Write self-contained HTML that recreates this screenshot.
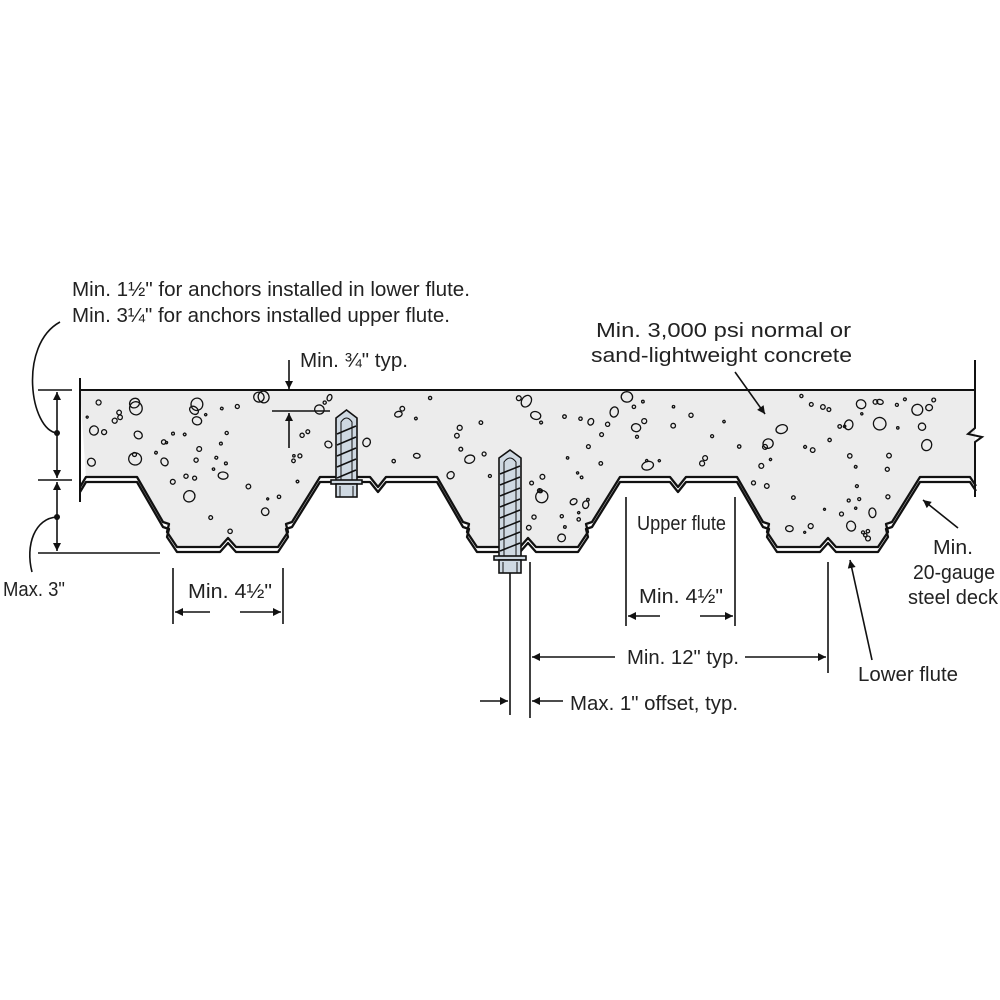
<!DOCTYPE html>
<html><head><meta charset="utf-8"><style>
html,body{margin:0;padding:0;background:#fff;}
svg{display:block;}
text{font-family:"Liberation Sans Narrow","Liberation Sans",sans-serif;font-size:20px;fill:#222;}
</style></head><body>
<svg id="s" width="1000" height="1000" viewBox="0 0 1000 1000" xmlns="http://www.w3.org/2000/svg">
<defs>
<marker id="ah" viewBox="0 0 10 10" refX="10" refY="5" markerWidth="17" markerHeight="8" markerUnits="userSpaceOnUse" orient="auto"><path d="M0,0 L10,5 L0,10 z" fill="#111"/></marker>
</defs>
<g id="concrete"></g>
<g id="dots" fill="none" stroke="#111" stroke-width="1.3"></g>
<g id="deck"></g>
<g id="anchors"></g>
<g stroke="#111" stroke-width="1.6" fill="none">
<line x1="80" y1="390" x2="975" y2="390" stroke-width="2"/>
<line x1="80" y1="378" x2="80" y2="502" stroke-width="2"/>
<polyline points="975,360 975,428 968,434 982,437 975,442 975,497" stroke-width="2"/>
<line x1="38" y1="390" x2="72" y2="390"/>
<line x1="38" y1="480" x2="72" y2="480"/>
<line x1="38" y1="553" x2="160" y2="553"/>
<line x1="57" y1="433" x2="57" y2="392" marker-end="url(#ah)"/>
<line x1="57" y1="433" x2="57" y2="478" marker-end="url(#ah)"/>
<line x1="57" y1="517" x2="57" y2="482" marker-end="url(#ah)"/>
<line x1="57" y1="517" x2="57" y2="551" marker-end="url(#ah)"/>
<path d="M57,433 C30,430 18,345 60,322"/>
<path d="M57,517 C35,518 25,545 32,572"/>
<line x1="289" y1="360" x2="289" y2="389" marker-end="url(#ah)"/>
<line x1="272" y1="411" x2="330" y2="411"/>
<line x1="289" y1="448" x2="289" y2="413" marker-end="url(#ah)"/>
<line x1="173" y1="568" x2="173" y2="624"/>
<line x1="283" y1="568" x2="283" y2="624"/>
<line x1="210" y1="612" x2="175" y2="612" marker-end="url(#ah)"/>
<line x1="240" y1="612" x2="281" y2="612" marker-end="url(#ah)"/>
<line x1="626" y1="497" x2="626" y2="626"/>
<line x1="735" y1="497" x2="735" y2="626"/>
<line x1="660" y1="616" x2="628" y2="616" marker-end="url(#ah)"/>
<line x1="700" y1="616" x2="733" y2="616" marker-end="url(#ah)"/>
<line x1="510" y1="573" x2="510" y2="715"/>
<line x1="530" y1="562" x2="530" y2="718"/>
<line x1="828" y1="562" x2="828" y2="673"/>
<line x1="615" y1="657" x2="532" y2="657" marker-end="url(#ah)"/>
<line x1="745" y1="657" x2="826" y2="657" marker-end="url(#ah)"/>
<line x1="480" y1="701" x2="508" y2="701" marker-end="url(#ah)"/>
<line x1="563" y1="701" x2="532" y2="701" marker-end="url(#ah)"/>
<line x1="735" y1="372" x2="765" y2="414" marker-end="url(#ah)"/>
<line x1="958" y1="528" x2="923" y2="500" marker-end="url(#ah)"/>
<line x1="872" y1="660" x2="850" y2="560" marker-end="url(#ah)"/>
</g>
<circle cx="57" cy="433" r="3" fill="#111"/>
<circle cx="57" cy="517" r="3" fill="#111"/>
<text x="72" y="296" textLength="398" lengthAdjust="spacingAndGlyphs">Min. 1½" for anchors installed in lower flute.</text>
<text x="72" y="322" textLength="378" lengthAdjust="spacingAndGlyphs">Min. 3¼" for anchors installed upper flute.</text>
<text x="300" y="367" textLength="108" lengthAdjust="spacingAndGlyphs">Min. ¾" typ.</text>
<text x="596" y="337" textLength="255" lengthAdjust="spacingAndGlyphs">Min. 3,000 psi normal or</text>
<text x="591" y="362" textLength="261" lengthAdjust="spacingAndGlyphs">sand-lightweight concrete</text>
<text x="3" y="596" textLength="62" lengthAdjust="spacingAndGlyphs">Max. 3"</text>
<text x="188" y="598" textLength="84" lengthAdjust="spacingAndGlyphs">Min. 4½"</text>
<text x="637" y="530" textLength="89" lengthAdjust="spacingAndGlyphs">Upper flute</text>
<text x="639" y="603" textLength="84" lengthAdjust="spacingAndGlyphs">Min. 4½"</text>
<text x="627" y="664" textLength="112" lengthAdjust="spacingAndGlyphs">Min. 12" typ.</text>
<text x="570" y="710" textLength="168" lengthAdjust="spacingAndGlyphs">Max. 1" offset, typ.</text>
<text x="858" y="681" textLength="100" lengthAdjust="spacingAndGlyphs">Lower flute</text>
<text x="933" y="554" textLength="40" lengthAdjust="spacingAndGlyphs">Min.</text>
<text x="913" y="579" textLength="82" lengthAdjust="spacingAndGlyphs">20-gauge</text>
<text x="908" y="604" textLength="90" lengthAdjust="spacingAndGlyphs">steel deck</text>
</svg>
<script>
(function(){
var NS="http://www.w3.org/2000/svg";
function el(t,a,p){var e=document.createElementNS(NS,t);for(var k in a)e.setAttribute(k,a[k]);p.appendChild(e);return e;}
var pts=[[80,487],[86,477]];
[20,320,620].forEach(function(p){
 var r=[[p+117,477],[p+143,522],[p+149,524],[p+147,532],[p+157,547],[p+200,547],[p+208,538],[p+216,547],[p+258,547],[p+268,532],[p+266,524],[p+272,522],[p+300,477],[p+350,477],[p+358,487],[p+366,477]];
 r.forEach(function(q){if(q[0]>=86&&q[0]<=975)pts.push(q);});
});
pts.push([970,477]);pts.push([976,486]);
var d="M"+pts.map(function(q){return q[0]+","+q[1];}).join(" L");
var conc=document.getElementById("concrete");
el("path",{d:"M80,390 L975,390 L975,486 L976,486 "+d.replace("M","L").split(" L").reverse().join(" L")+" Z",fill:"#ececec",stroke:"none"},conc);
var deck=document.getElementById("deck");
var lower=pts.map(function(q){return [q[0],q[1]+5];});
var d2="M"+lower.map(function(q){return q[0]+","+q[1];}).join(" L");
el("path",{d:d,fill:"none",stroke:"#111","stroke-width":"2.3","stroke-linejoin":"round"},deck);
el("path",{d:d2,fill:"none",stroke:"#111","stroke-width":"2.3","stroke-linejoin":"round"},deck);
el("path",{d:"M80,487 L80,492",stroke:"#111","stroke-width":"2"},deck);
function yAt(x){for(var i=0;i<pts.length-1;i++){var a=pts[i],b=pts[i+1];if(x>=a[0]&&x<=b[0]){return a[1]+(b[1]-a[1])*(x-a[0])/((b[0]-a[0])||1);}}return 477;}
var seed=7;function rnd(){seed=(seed*16807)%2147483647;return seed/2147483647;}
var dots=document.getElementById("dots");
for(var i=0;i<300;i++){
 var x=86+rnd()*884,y=396+rnd()*160;
 var lim=Math.min(yAt(x-8),yAt(x+8),yAt(x));
 if(y>lim-8)continue;
 if(x>330&&x<364&&y<500)continue;
 if(x>494&&x<526&&y>445)continue;
 var big=rnd()<0.3;
 var rx=big?3+rnd()*3.5:1+rnd()*1.5, ry=big?rx*(0.7+rnd()*0.4):rx;
 el("ellipse",{cx:x.toFixed(1),cy:y.toFixed(1),rx:rx.toFixed(1),ry:ry.toFixed(1),transform:"rotate("+(rnd()*180|0)+" "+x.toFixed(1)+" "+y.toFixed(1)+")"},dots);
}
var an=document.getElementById("anchors");
function anchor(x1,x2,top,wash,nutb){
 var g=el("g",{stroke:"#111","stroke-width":"1.6"},an);
 var m=(x1+x2)/2;
 el("path",{d:"M"+x1+","+wash+" L"+x1+","+(top+8)+" L"+m+","+top+" L"+x2+","+(top+8)+" L"+x2+","+wash+" Z",fill:"#cfd9e2"},g);
 el("path",{d:"M"+(x1+5)+","+(wash)+" L"+(x1+5)+","+(top+12)+" Q"+m+","+(top+4)+" "+(x2-5)+","+(top+12)+" L"+(x2-5)+","+wash,fill:"none","stroke-width":"1"},g);
 for(var y=top+20;y<wash-4;y+=11){el("line",{x1:x1+1,y1:y+4,x2:x2-1,y2:y-4,"stroke-width":"1.6"},g);}
 el("rect",{x:x1-5,y:wash-2,width:(x2-x1)+10,height:4,fill:"#cfd9e2"},g);
 el("rect",{x:x1,y:wash+2,width:x2-x1,height:nutb-wash-2,fill:"#cfd9e2"},g);
 el("line",{x1:x1+4,y1:wash+4,x2:x1+4,y2:nutb,"stroke-width":"1"},g);
 el("line",{x1:x2-4,y1:wash+4,x2:x2-4,y2:nutb,"stroke-width":"1"},g);
}
anchor(336,357,410,482,497);
anchor(499,521,450,558,573);
})();
</script>
</body></html>
